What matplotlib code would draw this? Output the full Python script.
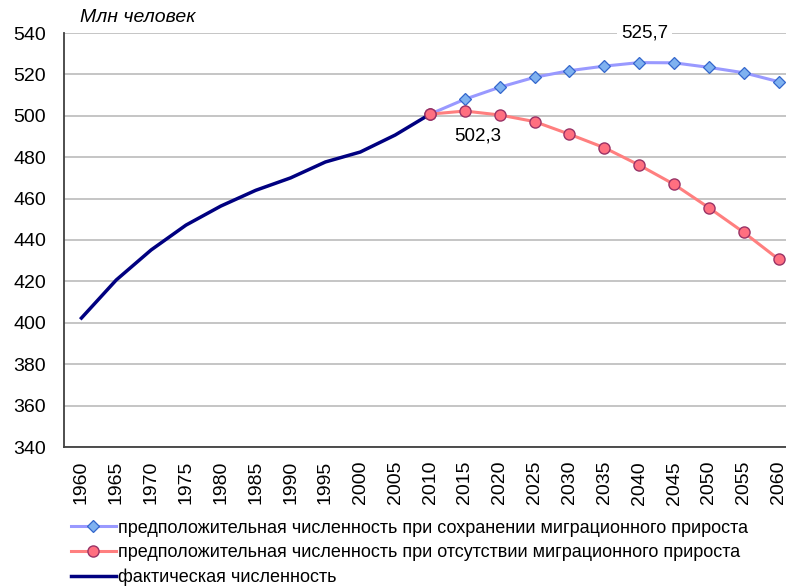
import matplotlib
matplotlib.use("Agg")
import matplotlib.pyplot as plt
from matplotlib.lines import Line2D

years = [1960, 1965, 1970, 1975, 1980, 1985, 1990, 1995, 2000, 2005, 2010,
         2015, 2020, 2025, 2030, 2035, 2040, 2045, 2050, 2055, 2060]
actual_years = years[:11]
actual = [402.3, 420.7, 435.2, 447.2, 456.4, 464.0, 470.0, 477.7, 482.5, 490.7, 500.8]
proj_years = years[10:]
proj_migr = [500.8, 508.0, 513.8, 518.6, 521.8, 524.0, 525.7, 525.6, 523.4, 520.8, 516.5]
proj_nomigr = [500.8, 502.3, 500.4, 497.2, 491.1, 484.6, 476.2, 466.9, 455.6, 443.7, 430.7]
yticks = [340, 360, 380, 400, 420, 440, 460, 480, 500, 520, 540]
labels = ["предположительная численность при сохранении миграционного прироста",
          "предположительная численность при отсутствии миграционного прироста",
          "фактическая численность"]

plt.rcParams['font.family'] = ['Liberation Sans', 'DejaVu Sans']
fig = plt.figure(figsize=(7.86, 5.86), dpi=100)
ax = fig.add_axes([64/786, 1-447/586, 732/786, 414/586])

idx = {y: i for i, y in enumerate(years)}
xa = [idx[y] for y in actual_years]
xp = [idx[y] for y in proj_years]

l1, = ax.plot(xp, proj_migr, color='#9999ff', lw=2.2, marker='D', ms=6,
              mfc='#7fb2f0', mec='#3366cc', mew=0.9, zorder=3)
l2, = ax.plot(xp, proj_nomigr, color='#ff7f7f', lw=2.2, marker='o', ms=8,
              mfc='#ff6f80', mec='#993366', mew=1.0, zorder=3)
l3, = ax.plot(xa, actual, color='#000080', lw=2.5, zorder=4)
ax.plot(xp[0], proj_nomigr[0], marker='o', ms=8, mfc='#ff6f80', mec='#993366', mew=1.0, zorder=5)

ax.set_xlim(-0.5, len(years) - 0.5)
ax.set_ylim(340, 540)
ax.set_yticks(yticks)
ax.set_yticklabels([str(v) for v in yticks], fontsize=14)
ax.set_xticks(range(len(years)))
ax.set_xticklabels([str(y) for y in years], rotation=90, fontsize=14)
ax.tick_params(axis='both', length=0)
ax.tick_params(axis='y', pad=13)
ax.tick_params(axis='x', pad=10)
ax.grid(axis='y', color='#c0c0c0', lw=1.3)
ax.set_axisbelow(True)
for s in ['top', 'right']:
    ax.spines[s].set_visible(False)
ax.spines['left'].set_color('#404040')
ax.spines['bottom'].set_color('#404040')
ax.spines['left'].set_linewidth(1.3)
ax.spines['bottom'].set_linewidth(1.3)

i_max = proj_migr.index(max(proj_migr))
ax.annotate(f"{max(proj_migr):.1f}".replace('.', ','), (xp[i_max], 540), xytext=(4, 0),
            textcoords='offset points', ha='center', va='center', fontsize=13.5,
            bbox=dict(facecolor='white', edgecolor='none', pad=3), zorder=6)
ax.annotate(f"{proj_nomigr[1]:.1f}".replace('.', ','), (xp[1], proj_nomigr[1]), xytext=(9, -18),
            textcoords='offset points', ha='center', va='center', fontsize=13.5, zorder=6)

fig.text(80/786, 1-18/586, "Млн человек", fontsize=14, style='italic', va='center', ha='left')

fig.legend([l1, l2, l3], labels, loc='lower left', bbox_to_anchor=(58/786, -13/586),
           frameon=False, fontsize=13, handlelength=2.5, handletextpad=0.15,
           labelspacing=0.42, borderpad=0.2)

fig.savefig("out.png", dpi=100)
